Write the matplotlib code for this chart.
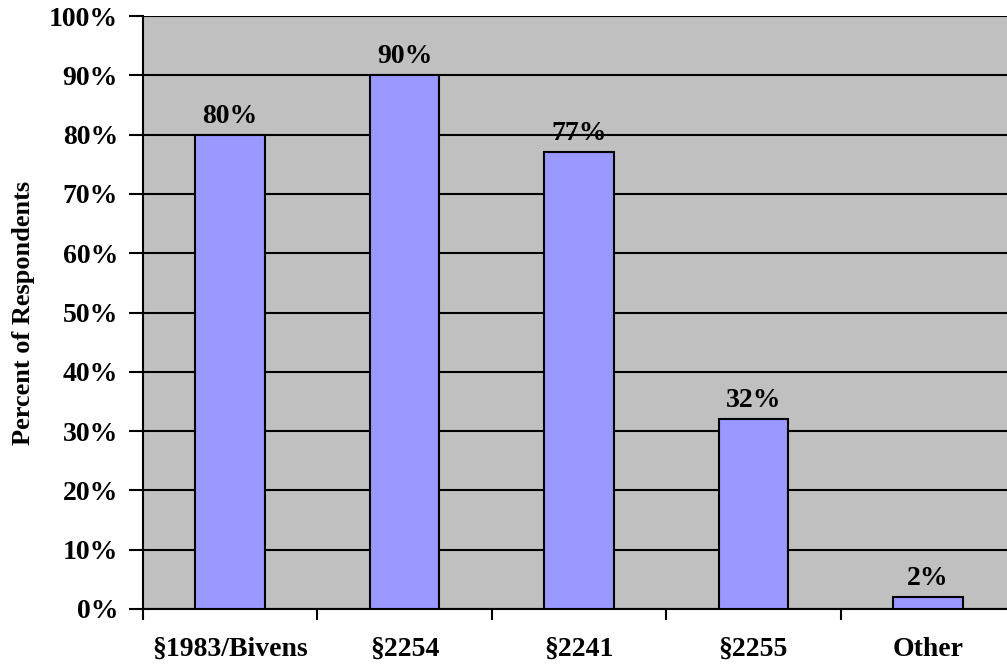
import matplotlib
matplotlib.use('Agg')
import matplotlib.pyplot as plt
from matplotlib.ticker import PercentFormatter

# survey results
categories = ['§1983/Bivens', '§2254', '§2241', '§2255', 'Other']
percents = [80, 90, 77, 32, 2]
y_ticks = list(range(0, 101, 10))

plt.rcParams['font.family'] = ['Liberation Serif', 'DejaVu Serif']

fig = plt.figure(figsize=(10.07, 6.68), dpi=100)
# plot area runs past the right edge of the canvas
ax = fig.add_axes([143 / 1007, (668 - 609) / 668, 872 / 1007, 593 / 668])
ax.set_facecolor('#c0c0c0')

x = range(len(categories))
bars = ax.bar(x, percents, width=0.4, color='#9999ff', edgecolor='black',
              linewidth=1.5, zorder=3)
for rect, v in zip(bars, percents):
    ax.text(rect.get_x() + rect.get_width() / 2, v + 1.0, f'{v}%',
            ha='center', va='bottom', fontsize=20, fontweight='bold', zorder=4)

ax.set_xlim(-0.5, len(categories) - 0.5)
ax.set_ylim(0, 100)
ax.set_yticks(y_ticks)
ax.yaxis.set_major_formatter(PercentFormatter(decimals=0))
ax.yaxis.grid(True, color='black', linewidth=1.5, zorder=1)

ax.set_xticks([i - 0.5 for i in range(len(categories) + 1)])
ax.set_xticklabels([])
ax.set_xticks(list(x), minor=True)
ax.set_xticklabels(categories, minor=True)
ax.tick_params(axis='x', which='major', direction='out', length=8, width=1.5)
ax.tick_params(axis='x', which='minor', length=0, pad=20, labelsize=20)
ax.tick_params(axis='y', direction='out', length=10, width=1.5, pad=8, labelsize=20)
for lbl in ax.get_xticklabels(minor=True) + ax.get_yticklabels():
    lbl.set_fontweight('bold')

for side in ['top', 'right']:
    ax.spines[side].set_visible(False)
ax.spines['left'].set_linewidth(1.5)
ax.spines['bottom'].set_linewidth(1.5)

ax.set_ylabel('Percent of Respondents', fontsize=19, fontweight='bold', labelpad=10)

fig.savefig('out.png', dpi=100)
